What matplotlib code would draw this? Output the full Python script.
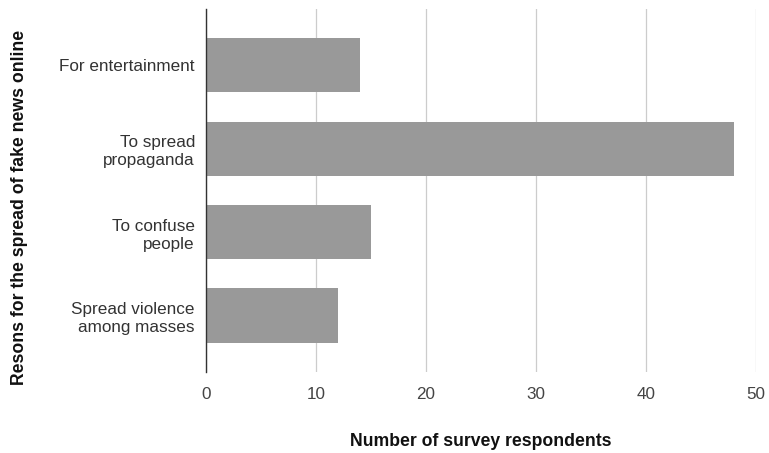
import numpy as np
import matplotlib.pyplot as plt

# reasons and survey counts
reasons = ["For entertainment", "To spread\npropaganda", "To confuse\npeople",
           "Spread violence\namong masses"]
respondents = [14, 48, 15, 12]
x_ticks = [0, 10, 20, 30, 40, 50]

plt.rcParams['font.family'] = ['Liberation Sans', 'DejaVu Sans']

fig = plt.figure(figsize=(7.69, 4.53), dpi=100)
ax = fig.add_axes([0.268, 0.179, 0.715, 0.801])

y = np.arange(len(reasons))
ax.barh(y, respondents, height=0.65, color='#999999', zorder=3)

ax.set_xlim(0, 50)
ax.set_ylim(3.675, -0.675)
ax.set_xticks(x_ticks)
ax.set_yticks(y)
ax.set_yticklabels(reasons, fontsize=12.3, color='#333333', linespacing=1.25)
ax.tick_params(axis='x', labelsize=12.3, labelcolor='#444444', length=0, pad=11)
ax.tick_params(axis='y', length=0, pad=8)

ax.grid(axis='x', color='#cccccc', linewidth=0.9, zorder=0)
for side in ['top', 'right', 'bottom']:
    ax.spines[side].set_visible(False)
ax.spines['left'].set_color('#333333')
ax.spines['left'].set_linewidth(1.0)
ax.spines['left'].set_zorder(4)

ax.set_xlabel('Number of survey respondents', fontsize=12.7, fontweight='bold',
              color='#111111', labelpad=22)
fig.text(0.026, 0.541, 'Resons for the spread of fake news online', rotation=90,
         fontsize=12.7, fontweight='bold', color='#111111', ha='center', va='center')

fig.savefig('out.png', dpi=100)
